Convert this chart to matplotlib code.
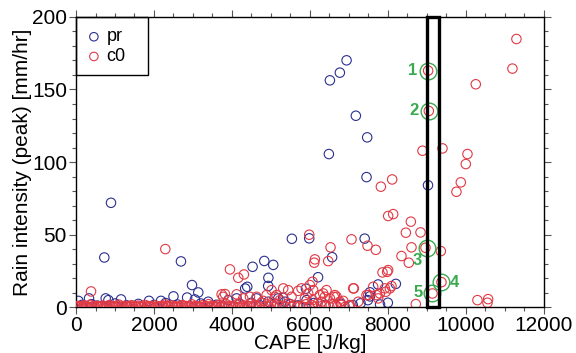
import matplotlib
matplotlib.use("Agg")
import matplotlib.pyplot as plt
from matplotlib.patches import Rectangle

plt.rcParams['font.family'] = ['Liberation Sans', 'DejaVu Sans']

# ---- data: pr (blue) ----
pr_x = [6941, 6769, 6513, 7179, 7470, 6487, 7453, 9030, 897, 726, 2692, 5538, 5983, 7405,
        6570, 4830, 5060, 4530, 4935, 6210, 4393, 4930, 4340, 5900, 7750, 8205, 7538, 7540,
        2975, 3137, 2500, 2850, 3050, 761, 830, 1154, 60, 333, 1872, 2179, 3393, 5316, 7487,
        3906, 4120, 4632, 4932, 5188, 5359, 5914,
        150, 400, 550, 1000, 1300, 1600, 2000, 2300, 2600, 3200, 3600, 4200, 4500, 4700,
        5100, 5500, 5700, 6100, 6400, 6800, 7100, 7300, 7800, 8000]
pr_y = [170.1, 161.6, 156.3, 131.9, 117.0, 105.5, 89.6, 84.0, 71.9, 34.2, 31.5, 47.1, 47.4, 47.2,
        34.4, 31.8, 29.1, 27.8, 20.2, 20.6, 14.0, 14.6, 12.8, 12.7, 15.6, 16.0, 10.2, 7.4,
        15.2, 10.1, 7.4, 6.6, 5.3, 6.0, 4.8, 5.3, 4.3, 6.0, 4.3, 4.3, 3.7, 6.4, 4.8,
        4.8, 6.0, 6.0, 3.7, 6.0, 3.7, 4.8,
        1.5, 2.0, 1.0, 2.5, 1.2, 2.2, 1.5, 2.8, 1.8, 2.5, 1.6, 2.2, 3.0, 1.5,
        2.4, 2.0, 1.2, 2.8, 1.6, 2.3, 1.4, 2.6, 1.8, 3.0]

# ---- data: c0 (red) ----
c0_x = [11299, 11197, 10256, 9034, 9051, 8889, 9402, 10043, 10000, 9872, 9760, 7821, 8111,
        8008, 8137, 8590, 8462, 8838, 8607, 8966, 9359, 8350, 8538, 7068, 6530, 7478, 7692,
        5983, 6128, 6111, 6470, 7863, 8008, 7983, 6068, 7128, 8094, 7949, 9376, 9145, 8718,
        10299, 10573, 10556, 2291, 385, 3949, 4162, 4308, 3735, 3821, 4120, 5316, 5444, 5786,
        5957, 3777, 4290, 4632, 4889, 5103, 4462, 4803, 5017, 5145, 5530, 5700, 5872, 6256,
        6427, 6513, 6684, 6855, 7239, 7453, 7709, 7923, 5231, 6384, 6641, 6769, 7111, 7496,
        7795, 7752, 8051, 6000, 6085, 6068, 6299, 7026, 7624, 6342, 6615,
        50, 130, 210, 280, 360, 450, 520, 600, 680, 760, 850, 930, 1010, 1100, 1180, 1260,
        1350, 1430, 1520, 1600, 1690, 1770, 1860, 1940, 2030, 2110, 2200, 2290, 2370, 2460,
        2540, 2630, 2720, 2800, 2890, 2970, 3060, 3150, 3230, 3320, 3400, 3490, 3580, 3660,
        3750, 3840, 3930, 4020, 4110, 4200, 4300, 4400, 4500, 4620, 4750, 4880, 5000, 5150,
        5300, 5450, 5600, 5750, 5900, 6050, 6200, 6400, 6600, 6800, 7000,
        20, 90, 170, 240, 320, 400, 480, 560, 640, 720, 800, 890, 970, 1050, 1140, 1220,
        1300, 1390, 1470, 1560, 1640, 1730, 1810, 1900, 1990, 2070, 2160, 2250, 2330, 2420,
        2500, 2590, 2680, 2760, 2850, 2930, 3020, 3100, 3190, 3280, 3360, 3450, 3530, 3620,
        3700, 3800, 3890, 3980, 4070, 4160, 4250, 4350, 4450, 4560, 4690, 4820, 4950, 5080,
        5220, 5380, 5520, 5680, 5830, 5980, 6130, 6300, 6500, 6700, 6900]
c0_y = [184.8, 164.4, 153.6, 163.0, 135.2, 107.8, 109.4, 105.5, 98.6, 86.0, 79.5, 83.0, 88.0,
        62.8, 64.1, 58.9, 51.3, 51.5, 41.2, 40.9, 38.6, 35.2, 30.6, 46.7, 41.2, 42.3, 39.5,
        49.9, 32.9, 30.6, 31.7, 23.9, 25.5, 24.3, 17.5, 12.9, 14.5, 10.6, 17.2, 9.4, 2.1,
        4.8, 5.5, 3.0, 40.0, 10.8, 26.0, 20.2, 22.5, 8.8, 9.0, 8.8, 12.9, 11.7, 12.9,
        9.4, 7.1, 6.0, 7.1, 8.3, 7.1, 7.1, 4.3, 11.7, 8.3, 7.1, 11.2, 6.0, 8.3,
        11.7, 6.0, 7.1, 4.3, 3.7, 8.3, 8.3, 12.9, 4.8, 7.1, 8.3, 3.7, 12.9, 8.3,
        9.4, 6.0, 12.9, 15.2, 11.7, 4.8, 3.7, 1.4, 14.0, 9.4, 7.1,
        0.8, 0.3, 1.2, 0.5, 1.6, 0.4, 0.9, 0.2, 1.1, 0.6, 1.4, 0.3, 0.8, 1.7, 0.5, 0.9,
        0.2, 1.3, 0.6, 1.0, 0.4, 1.5, 0.7, 0.3, 1.2, 0.5, 0.9, 1.8, 0.4, 1.1,
        0.6, 0.3, 1.4, 0.8, 0.5, 1.9, 0.7, 0.3, 1.2, 0.6, 2.0, 0.9, 0.4, 1.5,
        0.7, 2.2, 1.0, 0.5, 1.8, 2.5, 1.2, 0.6, 2.4, 1.1, 2.8, 0.8, 1.6, 2.3,
        1.0, 2.6, 1.4, 0.7, 2.0, 1.3, 2.7, 1.1, 2.2, 1.5, 0.9,
        0.1, 0.4, 0.2, 0.6, 0.1, 0.3, 0.5, 0.2, 0.4, 0.1, 0.6, 0.2, 0.3, 0.5, 0.1, 0.4,
        0.2, 0.6, 0.3, 0.1, 0.5, 0.2, 0.4, 0.6, 0.1, 0.3, 0.5, 0.2, 0.6, 0.1,
        0.4, 0.2, 0.3, 0.5, 0.1, 0.6, 0.2, 0.4, 0.3, 0.1, 0.5, 0.2, 0.6, 0.3,
        0.1, 0.4, 0.2, 0.5, 0.3, 0.1, 0.6, 0.2, 0.4, 0.3, 0.5, 0.1, 0.4, 0.2,
        0.6, 0.3, 0.1, 0.5, 0.2, 0.4, 0.3, 0.6, 0.2, 0.4, 0.1]

# ---- highlighted events ----
ev_labels = ['1', '2', '3', '4', '5']
ev_x = [9034, 9051, 9000, 9376, 9145]
ev_y = [163.0, 135.2, 40.5, 17.2, 9.4]
ev_dx = [-11, -11, -7, 9, -10]
ev_dy = [0, 0, -9, 0, 1]

box_x = [9000, 9300]

blue = '#2b2f8f'
red = '#e03a45'
green = '#3aaa4e'

fig = plt.figure(figsize=(5.76, 3.53), dpi=100)
ax = fig.add_axes([0.132, 0.130, 0.812, 0.822])

ax.scatter(pr_x, pr_y, s=46, facecolors='none', edgecolors=blue, linewidths=0.8,
           label='pr', zorder=2)
ax.scatter(c0_x, c0_y, s=46, facecolors='none', edgecolors=red, linewidths=0.8,
           label='c0', zorder=3)

ax.plot(ev_x, ev_y, 'o', ms=12, mfc='none', mec=green, mew=1.0, zorder=4)
for lab, x, y, dx, dy in zip(ev_labels, ev_x, ev_y, ev_dx, ev_dy):
    ax.annotate(lab, (x, y), xytext=(dx, dy), textcoords='offset points',
                ha='center', va='center', color=green, fontsize=12, fontweight='bold')

ax.add_patch(Rectangle((box_x[0], 0), box_x[1] - box_x[0], 200, fill=False,
                       edgecolor='black', linewidth=2.4, zorder=5, clip_on=False))

ax.set_xlim(0, 12000)
ax.set_ylim(0, 200)
ax.set_xticks(range(0, 12001, 2000))
ax.set_xticks(range(0, 12001, 500), minor=True)
ax.set_yticks(range(0, 201, 50))
ax.set_yticks(range(0, 201, 10), minor=True)
ax.tick_params(which='both', direction='out', top=True, right=True, labelsize=15,
               width=0.8, color='#555555', pad=1.5)
ax.tick_params(which='major', length=5)
ax.tick_params(which='minor', length=3)
ax.set_xlabel('CAPE [J/kg]', fontsize=15, labelpad=-1)
ax.set_ylabel('Rain intensity (peak) [mm/hr]', fontsize=15, labelpad=0)
for sp in ax.spines.values():
    sp.set_linewidth(1.0)

ax.add_patch(Rectangle((0, 0.80), 0.154, 0.20, transform=ax.transAxes, fill=False,
                       edgecolor='black', linewidth=1.0, zorder=6, clip_on=False))
ax.legend(loc='upper left', bbox_to_anchor=(-0.012, 1.01), frameon=False, fontsize=13,
          handletextpad=0.2, handlelength=1.0, labelspacing=0.15, borderpad=0.3,
          markerscale=0.9)

fig.savefig('out.png', dpi=100)
